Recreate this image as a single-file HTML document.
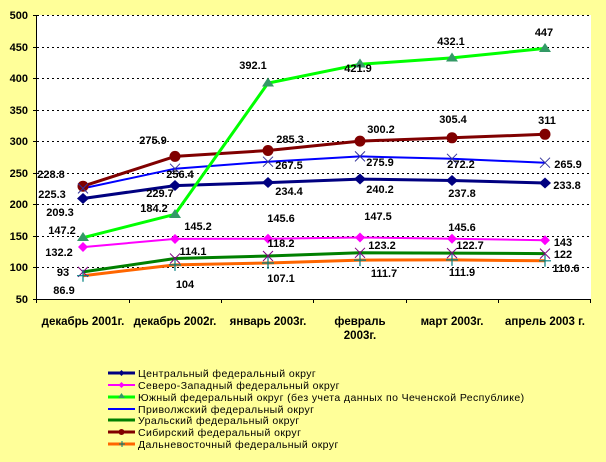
<!DOCTYPE html>
<html><head><meta charset="utf-8"><style>
body{margin:0;background:#FFFF99;}
svg{display:block;font-family:"Liberation Sans",Arial,sans-serif;}
.v{font-size:11px;font-weight:bold;fill:#000;text-anchor:middle;}
.ax{font-size:11px;font-weight:bold;fill:#000;}
.xl{font-size:11.5px;font-weight:bold;fill:#000;}
.lg{font-size:10.5px;fill:#000;letter-spacing:0.4px;}
</style></head><body>
<svg width="606" height="462" viewBox="0 0 606 462">
<rect width="606" height="462" fill="#FFFF99"/>
<rect x="37" y="15" width="554" height="284" fill="#fff"/>
<g stroke="#000" stroke-width="1" stroke-dasharray="2,3">
<line x1="37" x2="591" y1="15.5" y2="15.5"/><line x1="37" x2="591" y1="47.5" y2="47.5"/>
<line x1="37" x2="591" y1="78.5" y2="78.5"/><line x1="37" x2="591" y1="110.5" y2="110.5"/>
<line x1="37" x2="591" y1="141.5" y2="141.5"/><line x1="37" x2="591" y1="173.5" y2="173.5"/>
<line x1="37" x2="591" y1="204.5" y2="204.5"/><line x1="37" x2="591" y1="236.5" y2="236.5"/>
<line x1="37" x2="591" y1="267.5" y2="267.5"/>
</g>
<g stroke="#000" stroke-width="1">
<line x1="36.5" y1="15" x2="36.5" y2="303"/>
<line x1="33" y1="299.5" x2="591" y2="299.5"/>
<line x1="129.5" y1="299" x2="129.5" y2="303"/><line x1="221.5" y1="299" x2="221.5" y2="303"/>
<line x1="313.5" y1="299" x2="313.5" y2="303"/><line x1="406.5" y1="299" x2="406.5" y2="303"/>
<line x1="498.5" y1="299" x2="498.5" y2="303"/><line x1="590.5" y1="299" x2="590.5" y2="303"/>
<line x1="33" x2="37" y1="15.5" y2="15.5"/><line x1="33" x2="37" y1="47.5" y2="47.5"/><line x1="33" x2="37" y1="78.5" y2="78.5"/><line x1="33" x2="37" y1="110.5" y2="110.5"/><line x1="33" x2="37" y1="141.5" y2="141.5"/><line x1="33" x2="37" y1="173.5" y2="173.5"/><line x1="33" x2="37" y1="204.5" y2="204.5"/><line x1="33" x2="37" y1="236.5" y2="236.5"/><line x1="33" x2="37" y1="267.5" y2="267.5"/>
</g>
<g class="ax" text-anchor="end">
<text x="28" y="19">500</text><text x="28" y="51">450</text><text x="28" y="82">400</text><text x="28" y="114">350</text><text x="28" y="145">300</text><text x="28" y="177">250</text><text x="28" y="208">200</text><text x="28" y="240">150</text><text x="28" y="271">100</text><text x="28" y="303">50</text>
</g>
<g class="xl" text-anchor="middle">
<text x="83" y="325">декабрь 2001г.</text><text x="175" y="325">декабрь 2002г.</text><text x="268" y="325">январь 2003г.</text>
<text x="360" y="325">февраль</text><text x="360" y="339">2003г.</text>
<text x="452" y="325">март 2003г.</text><text x="545" y="325">апрель 2003 г.</text>
</g>
<g fill="none" stroke-linejoin="round">
<polyline stroke="#FF6600" stroke-width="3" points="83,275.7 175,264.9 268,263 360,260.1 452,259.9 545,260.8"/>
<polyline stroke="#008000" stroke-width="3" points="83,271.9 175,258.5 268,256 360,252.8 452,253.1 545,253.6"/>
<polyline stroke="#FF00FF" stroke-width="2" points="83,247.1 175,238.9 268,238.7 360,237.5 452,238.7 545,240.3"/>
<polyline stroke="#000080" stroke-width="3" points="83,198.5 175,185.6 268,182.6 360,179.1 452,180.5 545,183"/>
<polyline stroke="#0000FF" stroke-width="2" points="83,188.4 175,168.7 268,161.7 360,156.4 452,158.8 545,162.7"/>
<polyline stroke="#800000" stroke-width="3" points="83,186.2 175,156.4 268,150.5 360,141.1 452,137.8 545,134.3"/>
<polyline stroke="#00FF00" stroke-width="3" points="83,237.7 175,214.3 268,83.1 360,64.3 452,57.9 545,48.4"/>
</g>
<g fill="#000080"><path d="M83 193l6 5.5-6 5.5-6-5.5z"/><path d="M175 180l6 5.5-6 5.5-6-5.5z"/><path d="M268 177l6 5.5-6 5.5-6-5.5z"/><path d="M360 173.5l6 5.5-6 5.5-6-5.5z"/><path d="M452 175l6 5.5-6 5.5-6-5.5z"/><path d="M545 177.5l6 5.5-6 5.5-6-5.5z"/></g>
<g fill="#FF00FF"><path d="M83 242l5 5-5 5-5-5z"/><path d="M175 234l5 5-5 5-5-5z"/><path d="M268 233.7l5 5-5 5-5-5z"/><path d="M360 232.5l5 5-5 5-5-5z"/><path d="M452 233.7l5 5-5 5-5-5z"/><path d="M545 235.3l5 5-5 5-5-5z"/></g>
<g fill="#339966"><path d="M83 232l6 9h-12z"/><path d="M175 209l6 9h-12z"/><path d="M268 77.5l6 9h-12z"/><path d="M360 58.5l6 9h-12z"/><path d="M452 52.5l6 9h-12z"/><path d="M545 43l6 9h-12z"/></g>
<g fill="#800000"><circle cx="83" cy="186.2" r="5.5"/><circle cx="175" cy="156.4" r="5.5"/><circle cx="268" cy="150.5" r="5.5"/><circle cx="360" cy="141.1" r="5.5"/><circle cx="452" cy="137.8" r="5.5"/><circle cx="545" cy="134.3" r="5.5"/></g>
<g stroke="#333399" stroke-width="1" fill="none"><path d="M78 183.4l10 10m0-10l-10 10M170 163.7l10 10m0-10l-10 10M263 156.7l10 10m0-10l-10 10M355 151.4l10 10m0-10l-10 10M447 153.8l10 10m0-10l-10 10M540 157.7l10 10m0-10l-10 10"/></g>
<g stroke="#800080" stroke-width="1" fill="none"><path d="M78 266.9l10 10m0-10l-10 10M170 253.5l10 10m0-10l-10 10M263 251l10 10m0-10l-10 10M355 247.8l10 10m0-10l-10 10M447 248.1l10 10m0-10l-10 10M540 248.6l10 10m0-10l-10 10"/></g>
<g stroke="#008080" stroke-width="1.2" fill="none"><path d="M77 275.7h12m-6-6v12M169 264.9h12m-6-6v12M262 263h12m-6-6v12M354 260.1h12m-6-6v12M446 259.9h12m-6-6v12M539 260.8h12m-6-6v12"/></g>
<g class="v">
<text x="51" y="178">228.8</text><text x="52" y="198">225.3</text><text x="60" y="216">209.3</text><text x="62" y="234">147.2</text><text x="59" y="256">132.2</text><text x="63" y="276">93</text><text x="64" y="294">86.9</text>
<text x="153" y="144">275.9</text><text x="180" y="178">256.4</text><text x="160" y="197">229.7</text><text x="154" y="212">184.2</text><text x="198" y="230">145.2</text><text x="193" y="255">114.1</text><text x="185" y="288">104</text>
<text x="253" y="69">392.1</text><text x="290" y="143">285.3</text><text x="289" y="169">267.5</text><text x="289" y="195">234.4</text><text x="281" y="222">145.6</text><text x="281" y="247">118.2</text><text x="281" y="282">107.1</text>
<text x="358" y="72">421.9</text><text x="381" y="133">300.2</text><text x="380" y="166">275.9</text><text x="380" y="193">240.2</text><text x="378" y="220">147.5</text><text x="382" y="249">123.2</text><text x="384" y="277">111.7</text>
<text x="451" y="45">432.1</text><text x="453" y="123">305.4</text><text x="461" y="168">272.2</text><text x="462" y="197">237.8</text><text x="462" y="231">145.6</text><text x="470" y="249">122.7</text><text x="462" y="276">111.9</text>
<text x="544" y="36">447</text><text x="547" y="124">311</text><text x="568" y="168">265.9</text><text x="567" y="189">233.8</text><text x="563" y="246">143</text><text x="563" y="258">122</text><text x="566" y="272">110.6</text>
</g>
<g stroke-width="3">
<line x1="108" x2="135" y1="373" y2="373" stroke="#000080"/>
<line x1="108" x2="135" y1="385" y2="385" stroke="#FF00FF" stroke-width="2"/>
<line x1="108" x2="135" y1="397" y2="397" stroke="#00FF00"/>
<line x1="108" x2="135" y1="409" y2="409" stroke="#0000FF" stroke-width="2"/>
<line x1="108" x2="135" y1="420" y2="420" stroke="#008000"/>
<line x1="108" x2="135" y1="432" y2="432" stroke="#800000"/>
<line x1="108" x2="135" y1="444" y2="444" stroke="#FF6600"/>
</g>
<path d="M121.5 370l3 3-3 3-3-3z" fill="#000080"/><path d="M121.5 382l3 3-3 3-3-3z" fill="#FF00FF"/><path d="M121.5 393l3.5 5h-7z" fill="#339966"/>
<circle cx="121.5" cy="432" r="3" fill="#800000"/>
<path d="M119 444h6m-3-3v6" stroke="#008080" stroke-width="1"/>
<g class="lg">
<text x="138" y="377">Центральный федеральный округ</text>
<text x="138" y="389">Северо-Западный федеральный округ</text>
<text x="138" y="401">Южный федеральный округ (без учета данных по Чеченской Республике)</text>
<text x="138" y="413">Приволжский федеральный округ</text>
<text x="138" y="424">Уральский федеральный округ</text>
<text x="138" y="436">Сибирский федеральный округ</text>
<text x="138" y="448">Дальневосточный федеральный округ</text>
</g>
</svg>
</body></html>
